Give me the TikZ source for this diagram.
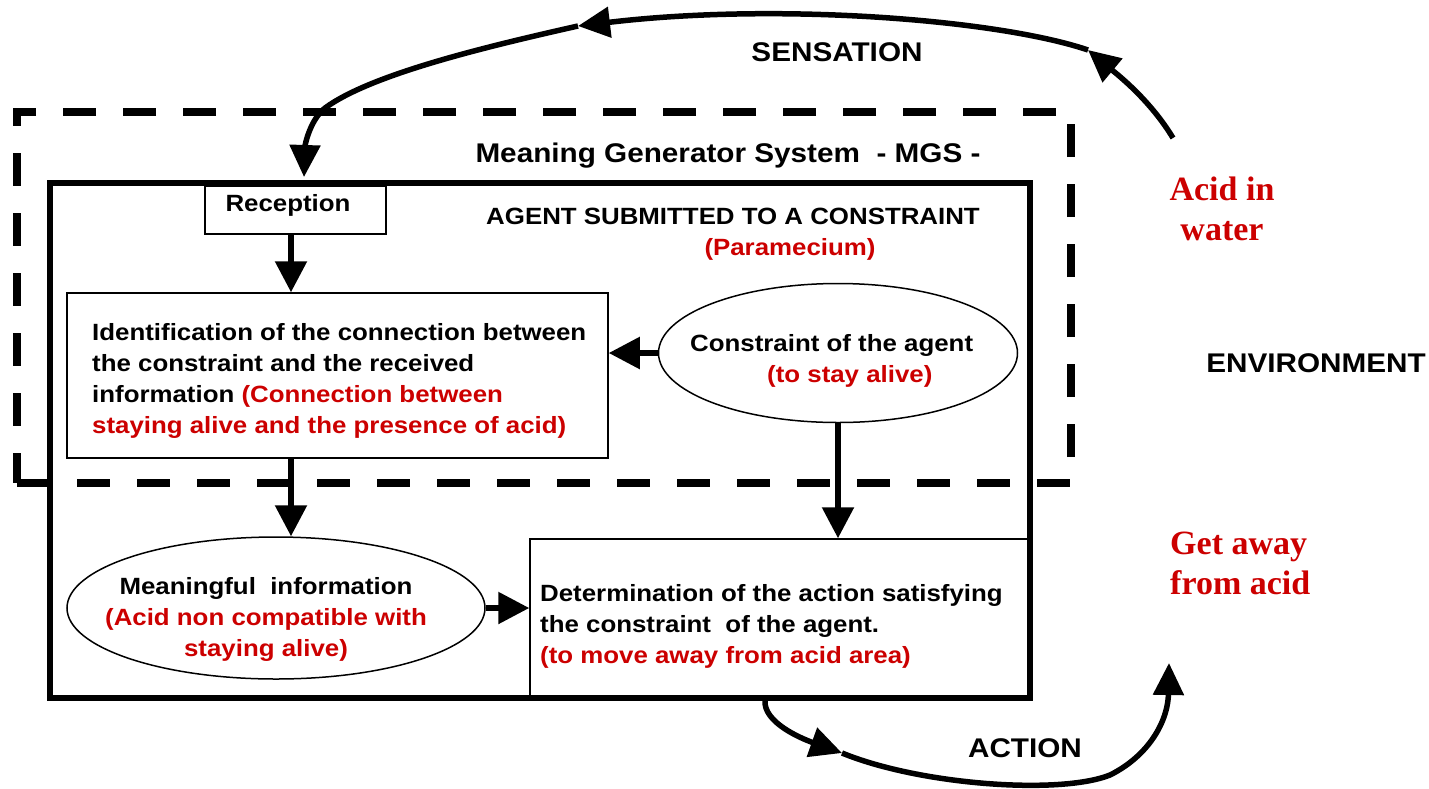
\documentclass[tikz,border=0pt]{standalone}
\usepackage{fontspec}
\setmainfont{Liberation Sans}[FakeStretch=1.1]
\newfontfamily\serifred{Liberation Serif}
\usetikzlibrary{arrows.meta,shapes.geometric}
\definecolor{darkred}{RGB}{204,0,0}
\begin{document}
\begin{tikzpicture}[x=1pt,y=-1pt,
  body/.style={font=\fontsize{23.5}{31}\selectfont\bfseries, inner sep=0},
  big/.style={font=\fontsize{27}{32}\selectfont\bfseries, inner sep=0},
  envtext/.style={font=\fontsize{34}{40}\selectfont\serifred\bfseries, text=darkred, inner sep=0},
  thinbox/.style={draw, line width=1.5pt, inner sep=0},
  arr/.style={line width=5.5pt, -{Triangle[length=31pt,width=31pt]}},
  carr/.style={line width=5.5pt, -{Triangle[length=32pt,width=30pt]}},
]
\useasboundingbox (0,0) rectangle (1429,788);
\fill[white] (0,0) rectangle (1429,788);

% MGS dashed frame and agent frame
\node[draw, line width=8.5pt, dash pattern=on 33pt off 27pt, minimum width=1054, minimum height=371, inner sep=0] (mgs) at (544,297.5) {};
\node[draw, line width=5.5pt, minimum width=980, minimum height=515, inner sep=0] (agent) at (540,440.5) {};

% boxes
\node[thinbox, minimum width=181, minimum height=48] (rec) at (295.5,210) {};
\node[thinbox, minimum width=541, minimum height=165] (ident) at (337.5,375.5) {};
\node[thinbox, ellipse, minimum width=359, minimum height=139] (cons) at (838,353) {};
\node[thinbox, ellipse, minimum width=418, minimum height=142] (mean) at (276,608) {};
\node[thinbox, minimum width=500, minimum height=159] (det) at (780,618.5) {};

% texts (base anchor = baseline of the last line)
\node[big, anchor=base] (mgst) at (728,162) {Meaning Generator System\ \ - MGS -};
\node[body, anchor=base] (agt) at (733,224) {AGENT SUBMITTED TO A CONSTRAINT};
\node[body, anchor=base, text=darkred] (par) at (790,255) {(Paramecium)};
\node[body, anchor=base] (rect) at (288,211) {Reception};
\node[body, anchor=base west, align=left] (identt) at (92,433) {Identification of the connection between\\the constraint and the received\\information \textcolor{darkred}{(Connection between}\\\textcolor{darkred}{staying alive and the presence of acid)}};
\node[body, anchor=base west, align=left] (const) at (690,382) {Constraint of the agent\\\hspace*{77pt}\textcolor{darkred}{(to stay alive)}};
\node[body, anchor=base, align=center] (meant) at (266,656) {Meaningful\ \ information\\\textcolor{darkred}{(Acid non compatible with}\\\textcolor{darkred}{staying alive)}};
\node[body, anchor=base west, align=left] (dett) at (540,663) {Determination of the action satisfying\\the constraint\ \ of the agent.\\\textcolor{darkred}{(to move away from acid area)}};
\node[big, anchor=base] (sens) at (837,61) {SENSATION};
\node[envtext, anchor=base, align=center] (acid) at (1222,240) {Acid in\\water};
\node[big, anchor=base] (envt) at (1316,372.7) {ENVIRONMENT};
\node[envtext, anchor=base west, align=left] (get) at (1170,594) {Get away\\from acid};
\node[big, anchor=base] (actt) at (1025,757) {ACTION};

% straight connectors
\coordinate (xa) at (291,0);
\draw[arr] (xa |- rec.south) -- (xa |- ident.north);
\draw[arr] (xa |- ident.south) -- (xa |- mean.north);
\draw[arr] (cons.west) -- (ident.east |- cons.west);
\draw[arr] (cons.south) -- (cons.south |- det.north);
\draw[arr] (mean.east) -- (det.west |- mean.east);

% sensation loop
\coordinate (s0) at (1173,138);
\coordinate (s1) at (1088,50);
\coordinate (s2) at (578,26);
\coordinate (s3) at (325,108);
\coordinate (s4) at (304,177);
\draw[carr] (s0) .. controls (1150,100) and (1118,75) .. (s1);
\draw[carr] (s1) .. controls (1000,20) and (780,2) .. (s2);
\draw[carr] (s2) .. controls (480,48) and (370,75) .. (s3) .. controls (310,120) and (305,145) .. (s4);

% action loop
\coordinate (a0) at (765,700);
\coordinate (a1) at (842,753);
\coordinate (a2) at (1110,775);
\coordinate (a3) at (1169,663);
\draw[carr] (a0) .. controls (763,722) and (800,738) .. (a1);
\draw[carr] (a1) .. controls (920,785) and (1060,795) .. (a2) .. controls (1150,755) and (1168,720) .. (a3);
\end{tikzpicture}
\end{document}
